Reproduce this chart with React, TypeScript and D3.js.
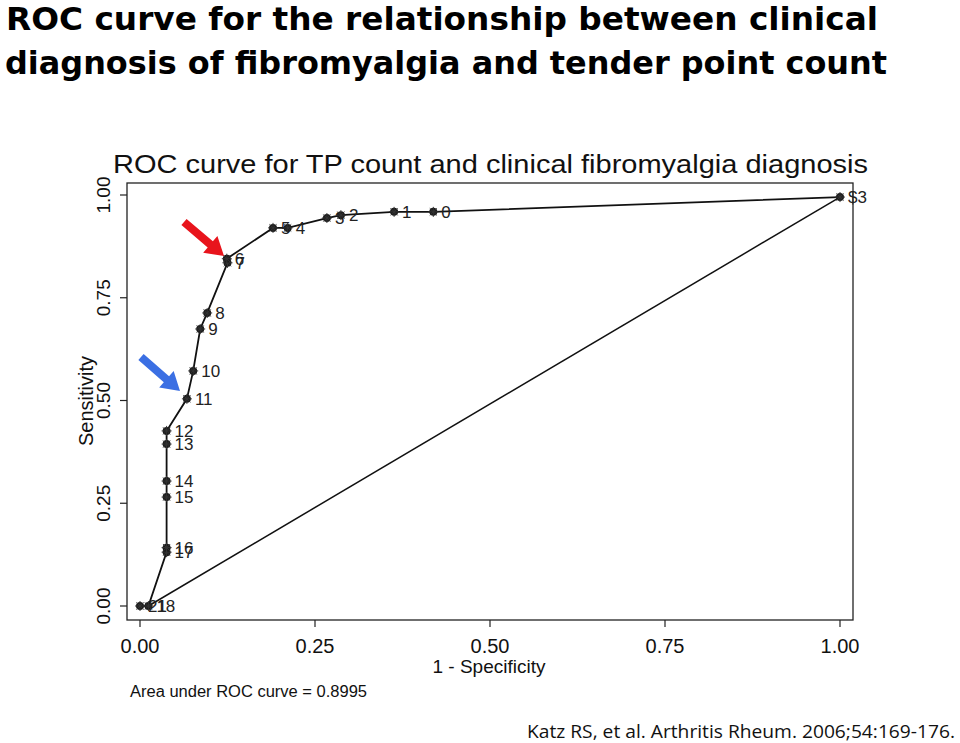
import React from "react";
import * as d3 from "d3";

const labels = ["21", "18", "17", "16", "15", "14", "13", "12", "11", "10", "9", "8", "7", "6", "5", "4", "3", "2", "1", "0", "$3"];
const fpr = [0.0, 0.012, 0.038, 0.038, 0.038, 0.038, 0.038, 0.038, 0.067, 0.076, 0.086, 0.096, 0.125, 0.124, 0.19, 0.211, 0.267, 0.287, 0.363, 0.419, 1.0];
const tpr = [0.0, 0.0, 0.131, 0.142, 0.265, 0.304, 0.394, 0.426, 0.504, 0.572, 0.674, 0.713, 0.835, 0.845, 0.92, 0.92, 0.944, 0.951, 0.959, 0.959, 0.995];
const refX = [0.012, 1.0];
const refY = [0.0, 0.995];
const ticks = [0, 0.25, 0.5, 0.75, 1];
const tickLabels = ["0.00", "0.25", "0.50", "0.75", "1.00"];

export default function App() {
  const x = d3.scaleLinear().domain([0, 1]).range([140, 840]);
  const y = d3.scaleLinear().domain([0, 1]).range([606, 195]);
  const box = { l: 127, r: 853, t: 183, b: 620 };
  const pts = fpr.map((f, i) => ({ f, t: tpr[i], lab: labels[i] }));
  const line = d3.line<{ f: number; t: number }>().x((d) => x(d.f)).y((d) => y(d.t));
  const ref = refX.map((f, i) => ({ f, t: refY[i] }));
  const font = "'Liberation Sans', Arial, sans-serif";

  const arrow = (x1: number, y1: number, x2: number, y2: number, color: string) => {
    const ang = Math.atan2(y2 - y1, x2 - x1);
    const len = Math.hypot(x2 - x1, y2 - y1);
    const headL = 18, headW = 11, shaftW = 4;
    const pts2 = [
      [0, -shaftW], [len - headL, -shaftW], [len - headL, -headW], [len, 0],
      [len - headL, headW], [len - headL, shaftW], [0, shaftW],
    ];
    const c = Math.cos(ang), s = Math.sin(ang);
    const d = pts2.map((p) => `${x1 + p[0] * c - p[1] * s},${y1 + p[0] * s + p[1] * c}`).join(" ");
    return <polygon points={d} fill={color} />;
  };

  return (
    <svg width={960} height={743} style={{ position: "absolute", left: 0, top: 0, background: "#fff" }}>
      <rect width={960} height={743} fill="#fff" />
      <text x={6} y={30} fontFamily="'DejaVu Sans', sans-serif" fontWeight="bold" fontSize={32}
        textLength={872} lengthAdjust="spacingAndGlyphs">ROC curve for the relationship between clinical</text>
      <text x={5} y={74} fontFamily="'DejaVu Sans', sans-serif" fontWeight="bold" fontSize={32}
        textLength={882} lengthAdjust="spacingAndGlyphs">diagnosis of fibromyalgia and tender point count</text>

      <text x={113} y={173} fontFamily={font} fontSize={26} fill="#111"
        textLength={755} lengthAdjust="spacingAndGlyphs">ROC curve for TP count and clinical fibromyalgia diagnosis</text>

      <rect x={box.l} y={box.t} width={box.r - box.l} height={box.b - box.t} fill="none" stroke="#222" strokeWidth={1.3} />

      {ticks.map((t, i) => (
        <g key={"xt" + i}>
          <line x1={x(t)} x2={x(t)} y1={box.b} y2={box.b + 7} stroke="#222" strokeWidth={1.2} />
          <text x={x(t)} y={653} textAnchor="middle" fontFamily={font} fontSize={20} fill="#111">{tickLabels[i]}</text>
          <line x1={box.l - 7} x2={box.l} y1={y(t)} y2={y(t)} stroke="#222" strokeWidth={1.2} />
          <text transform={`translate(110,${y(t)}) rotate(-90)`} textAnchor="middle" fontFamily={font} fontSize={19} fill="#111">{tickLabels[i]}</text>
        </g>
      ))}

      <text x={489} y={673} textAnchor="middle" fontFamily={font} fontSize={19} fill="#111">1 - Specificity</text>
      <text transform={`translate(93,401) rotate(-90)`} textAnchor="middle" fontFamily={font} fontSize={20} fill="#111">Sensitivity</text>
      <text x={130} y={697} fontFamily={font} fontSize={16} fill="#111" textLength={237} lengthAdjust="spacingAndGlyphs">Area under ROC curve = 0.8995</text>

      <path d={line(ref) || ""} fill="none" stroke="#111" strokeWidth={1.5} />
      <path d={line(pts) || ""} fill="none" stroke="#111" strokeWidth={1.8} />

      {pts.map((p, i) => {
        const cx = x(p.f), cy = y(p.t);
        return (
          <g key={"p" + i}>
            <circle cx={cx} cy={cy} r={4} fill="#1a1a1a" />
            {[0, 45, 90, 135].map((a) => {
              const r = (a * Math.PI) / 180;
              return <line key={a} x1={cx - 5 * Math.cos(r)} y1={cy - 5 * Math.sin(r)} x2={cx + 5 * Math.cos(r)} y2={cy + 5 * Math.sin(r)} stroke="#333" strokeWidth={1} />;
            })}
            <text x={cx + 8} y={cy + 6} fontFamily={font} fontSize={17} fill="#222">{p.lab}</text>
          </g>
        );
      })}

      {arrow(184, 222, 224, 256, "#e8141c")}
      {arrow(141, 357, 180, 391, "#3b6fe3")}

      <text x={527} y={738} fontFamily="'Open Sans', sans-serif" fontSize={18} fill="#111"
        textLength={428} lengthAdjust="spacingAndGlyphs">Katz RS, et al. Arthritis Rheum. 2006;54:169-176.</text>
    </svg>
  );
}
